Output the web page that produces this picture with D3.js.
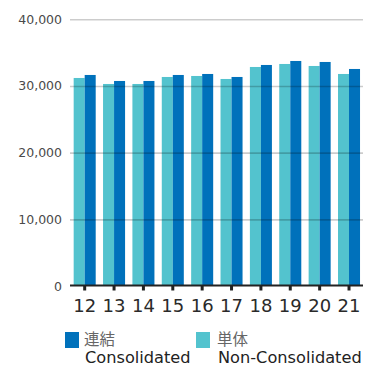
<!DOCTYPE html>
<html><head><meta charset="utf-8">
<script src="https://cdn.jsdelivr.net/npm/d3@7"></script>
<style>html,body{margin:0;padding:0;background:#fff}</style>
</head><body>
<svg id="c" width="366" height="366"></svg>
<script>
const categories = ["12","13","14","15","16","17","18","19","20","21"];
const nonConsolidated = [31200,30300,30300,31350,31500,31050,32850,33300,33000,31800];
const consolidated = [31650,30750,30750,31650,31800,31350,33150,33750,33600,32550];
const yTicks = [0,10000,20000,30000,40000];
const seriesNames = [["連結","Consolidated"],["単体","Non-Consolidated"]];
const colors = {con:"#0071BB", non:"#53C3CE"};
const font = "'DejaVu Sans', sans-serif";

const svg = d3.select("#c");
const x = d3.scaleBand().domain(categories).range([70, 363.7]).paddingInner(0.25).paddingOuter(0.125);
const inner = d3.scaleBand().domain(["non","con"]).range([0, x.bandwidth()]);
const y = d3.scaleLinear().domain([0,40000]).range([286, 19.3]);

const data = categories.map((c,i)=>({c, non:nonConsolidated[i], con:consolidated[i]}));
const g = svg.append("g");
data.forEach(d=>{
  ["non","con"].forEach(k=>{
    g.append("rect").attr("x", x(d.c)+inner(k)).attr("width", inner.bandwidth())
      .attr("y", y(d[k])).attr("height", y(0)-y(d[k])).attr("fill", colors[k]);
  });
});

// gridlines over bars
const yAxis = d3.axisLeft(y).tickValues(yTicks).tickSize(-(363-70)).tickPadding(8)
  .tickFormat(d3.format(","));
const ya = svg.append("g").attr("transform","translate(70,0)").call(yAxis);
ya.select(".domain").remove();
ya.selectAll(".tick line").attr("stroke","#000").attr("stroke-opacity",0.2).attr("stroke-width",1.6);
ya.selectAll(".tick").filter(d=>d===0).select("line").remove();
ya.selectAll(".tick text").attr("font-family",font).attr("font-size",12.5).attr("fill","#4a4a4a");

// x axis
const xAxis = d3.axisBottom(x).tickSize(5).tickPadding(9);
const xa = svg.append("g").attr("transform","translate(0,285.5)").call(xAxis);
xa.select(".domain").attr("d","M70,0H363").attr("stroke","#222").attr("stroke-width",1.8);
xa.selectAll(".tick line").attr("stroke","#222").attr("stroke-width",3);
xa.selectAll(".tick text").attr("font-family",font).attr("font-size",18).attr("fill","#2a2a2a");

// legend
const leg = [{x:65, tx:84, key:"con", names:seriesNames[0]},{x:196, tx:217, key:"non", names:seriesNames[1]}];
leg.forEach(l=>{
  svg.append("rect").attr("x",l.x).attr("y",332).attr("width",14).attr("height",16).attr("fill",colors[l.key]);
  svg.append("text").attr("x",l.tx).attr("y",345).text(l.names[0])
    .attr("font-family","'Noto Sans CJK JP', sans-serif").attr("font-size",15.5).attr("fill","#666");
  svg.append("text").attr("x",l.tx+1).attr("y",363).text(l.names[1])
    .attr("font-family",font).attr("font-size",16.2).attr("fill","#222");
});
</script>
</body></html>
